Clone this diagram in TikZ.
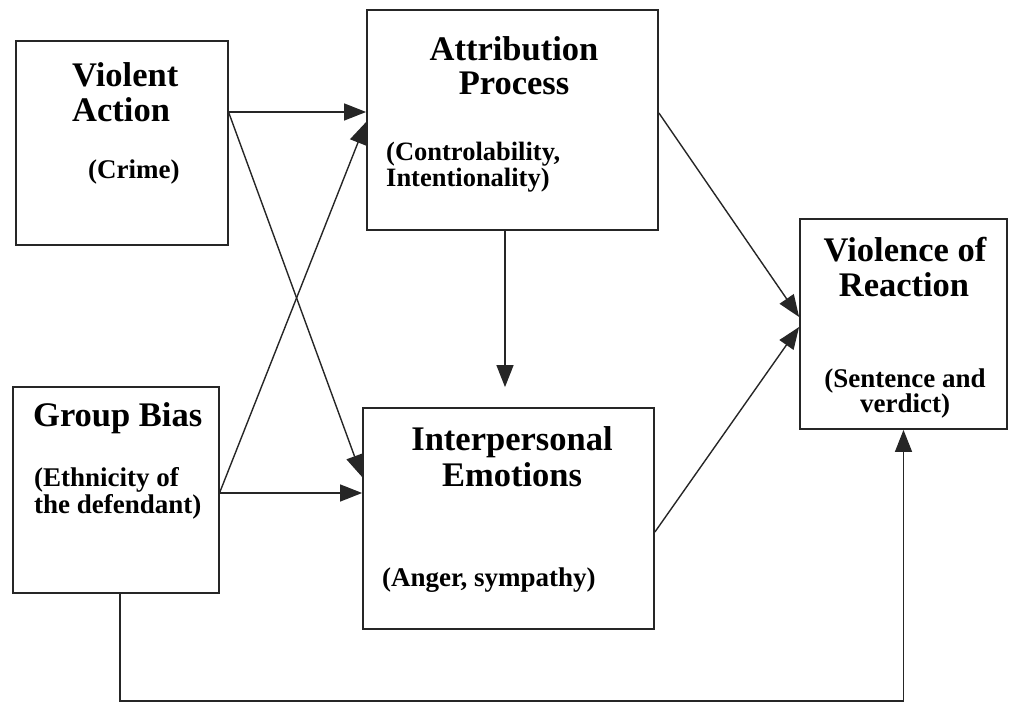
\documentclass[tikz,border=0pt]{standalone}
\usepackage{fontspec}
\setmainfont{Liberation Serif}
\usetikzlibrary{arrows.meta}
\tikzset{
  box/.style={draw=black!85, line width=1.8pt, minimum width=#1, inner sep=0pt},
  head/.style={font=\fontsize{34.5}{35}\selectfont\bfseries, inner sep=0pt, anchor=base},
  sub/.style={font=\fontsize{27}{25}\selectfont\bfseries, inner sep=0pt, anchor=base west},
  link/.style={draw=black!85, line width=1.4pt, -{Triangle[length=22pt,width=17pt]}}
}
\begin{document}
\begin{tikzpicture}[x=1pt,y=1pt]
\useasboundingbox (0,0) rectangle (1009,704);
% boxes
\node[box=212pt, minimum height=204pt] (va) at (122,561) {};
\node[box=291pt, minimum height=220pt] (ap) at (512.5,584) {};
\node[box=206pt, minimum height=206pt] (gb) at (116,214) {};
\node[box=291pt, minimum height=221pt] (ie) at (508.5,185.5) {};
\node[box=207pt, minimum height=210pt] (vr) at (903.5,380) {};

% texts, one node per line
\node[head, anchor=base west] (va1) at (72,617) {Violent};
\node[head, anchor=base west] (va2) at (72,582) {Action};
\node[sub] (va3) at (88,525) {(Crime)};

\node[head] (ap1) at (514,643) {Attribution};
\node[head] (ap2) at (514,609) {Process};
\node[sub, font=\fontsize{26.5}{25}\selectfont\bfseries] (ap3) at (386,543) {(Controlability,};
\node[sub, font=\fontsize{26.5}{25}\selectfont\bfseries] (ap4) at (386,517) {Intentionality)};

\node[head, anchor=base west] (gb1) at (33,277) {Group Bias};
\node[sub] (gb2) at (34,217) {(Ethnicity of};
\node[sub] (gb3) at (34,190) {the defendant)};

\node[head] (ie1) at (512,253) {Interpersonal};
\node[head] (ie2) at (512,217) {Emotions};
\node[sub] (ie3) at (382,117) {(Anger, sympathy)};

\node[head] (vr1) at (905,442) {Violence of};
\node[head] (vr2) at (904,407) {Reaction};
\node[head, font=\fontsize{27}{25}\selectfont\bfseries] (vr3) at (905,316) {(Sentence and};
\node[head, font=\fontsize{27}{25}\selectfont\bfseries] (vr4) at (905,291) {verdict)};

% connectors
\draw[link] ([yshift=31pt]va.east) -- ([yshift=8pt]ap.west);
\draw[link] ([yshift=30pt]va.east) -- ([yshift=41.5pt]ie.west);
\draw[link] ([yshift=-2pt]gb.east) -- ([yshift=-2pt]ap.west);
\draw[link] ([yshift=-3pt]gb.east) -- ([yshift=25.5pt]ie.west);
\draw[link, shorten >=20pt] ([xshift=-7.5pt]ap.south) -- ([xshift=-3.5pt]ie.north);
\draw[link] ([yshift=7pt]ap.east) -- ([yshift=7pt]vr.west);
\draw[link] ([yshift=-13.5pt]ie.east) -- ([yshift=-3pt]vr.west);
\draw[link] ([xshift=4pt]gb.south) -- ++(0,-107pt) -| (vr.south);
\end{tikzpicture}
\end{document}
